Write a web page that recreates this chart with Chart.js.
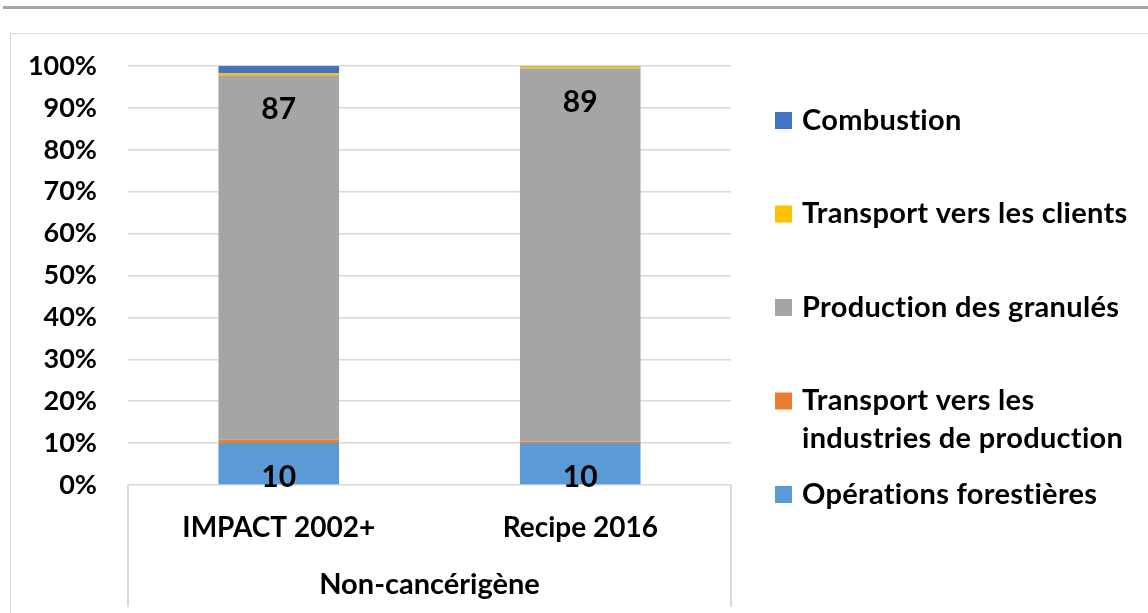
<!DOCTYPE html>
<html>
<head>
<meta charset="utf-8">
<script src="https://cdn.jsdelivr.net/npm/chart.js@4/dist/chart.umd.min.js"></script>
<style>
  html, body { margin: 0; padding: 0; background: #fff; }
  #wrap { width: 1148px; height: 613px; position: relative; }
</style>
</head>
<body>
<div id="wrap"><canvas id="c" width="1148" height="613"></canvas></div>
<script>
// Categories and stacked shares (%) per life-cycle stage
const categories = ['IMPACT 2002+', 'Recipe 2016'];
const operationsForestieres = [10, 10];
const transportIndustries = [0.8, 0.4];
const productionGranules = [87, 89];
const transportClients = [0.5, 0.5];
const combustion = [1.7, 0.1];
const yTickValues = [0, 10, 20, 30, 40, 50, 60, 70, 80, 90, 100];
const groupTitle = 'Non-cancérigène';

const FONT = 'Lato, "Liberation Sans", sans-serif';

// Page frame: grey rule at the top and the light chart border
const framePlugin = {
  id: 'frame',
  beforeDraw(chart) {
    const ctx = chart.ctx;
    ctx.save();
    ctx.fillStyle = '#ffffff';
    ctx.fillRect(0, 0, chart.width, chart.height);
    ctx.fillStyle = '#a5a5a5';
    ctx.fillRect(3, 6, chart.width - 3, 3);
    ctx.strokeStyle = '#d9d9d9';
    ctx.lineWidth = 1;
    ctx.strokeRect(10.5, 33.5, chart.width + 10, chart.height + 10);
    ctx.restore();
  }
};

// Box around the category labels below the plot
const categoryBoxPlugin = {
  id: 'categoryBox',
  afterDraw(chart) {
    const {ctx, chartArea} = chart;
    const x = chart.scales.x;
    ctx.save();
    ctx.strokeStyle = '#d9d9d9';
    ctx.lineWidth = 2;
    ctx.beginPath();
    ctx.moveTo(x.left, chartArea.bottom);
    ctx.lineTo(x.left, chart.height - 6);
    ctx.moveTo(x.right, chartArea.bottom);
    ctx.lineTo(x.right, chart.height - 6);
    ctx.stroke();
    ctx.restore();
  }
};

// Value labels on the forestry and pellet-production segments
const valueLabelPlugin = {
  id: 'valueLabels',
  afterDatasetsDraw(chart) {
    const ctx = chart.ctx;
    ctx.save();
    ctx.font = 'bold 30px ' + FONT;
    ctx.fillStyle = '#000';
    ctx.textAlign = 'center';
    ctx.textBaseline = 'middle';
    chart.data.datasets.forEach((ds, i) => {
      if (!ds.showValue) return;
      const meta = chart.getDatasetMeta(i);
      meta.data.forEach((bar, j) => {
        const v = Math.round(ds.data[j]);
        const y = ds.showValue === 'end' ? bar.y + 34 : bar.base - 7;
        ctx.fillText(String(v), bar.x, y);
      });
    });
    ctx.restore();
  }
};

// Legend on the right, listed from the top of the stack down
const sideLegendPlugin = {
  id: 'sideLegend',
  afterDraw(chart) {
    const ctx = chart.ctx;
    const markerX = 775, markerSize = 17, textX = 802;
    const firstY = 120.5, step = 93.5, lineGap = 38, maxWidth = 342;
    ctx.save();
    ctx.font = 'bold 29px ' + FONT;
    if ('letterSpacing' in ctx) ctx.letterSpacing = '0.3px';
    ctx.textBaseline = 'middle';
    ctx.textAlign = 'left';
    const items = chart.data.datasets.slice().reverse();
    items.forEach((ds, k) => {
      const cy = firstY + k * step;
      ctx.fillStyle = ds.backgroundColor;
      ctx.fillRect(markerX, cy - markerSize / 2, markerSize, markerSize);
      // wrap the label into lines that fit the legend column
      const words = ds.label.split(' ');
      const lines = [];
      let cur = '';
      words.forEach(w => {
        const test = cur ? cur + ' ' + w : w;
        if (ctx.measureText(test).width > maxWidth && cur) {
          lines.push(cur);
          cur = w;
        } else {
          cur = test;
        }
      });
      if (cur) lines.push(cur);
      ctx.fillStyle = '#000';
      lines.forEach((ln, li) => ctx.fillText(ln, textX, cy + li * lineGap));
    });
    ctx.restore();
  }
};

new Chart(document.getElementById('c'), {
  type: 'bar',
  data: {
    labels: categories,
    datasets: [
      { label: 'Opérations forestières', data: operationsForestieres, backgroundColor: '#5b9bd5', showValue: 'base' },
      { label: 'Transport vers les industries de production', data: transportIndustries, backgroundColor: '#ed7d31' },
      { label: 'Production des granulés', data: productionGranules, backgroundColor: '#a5a5a5', showValue: 'end' },
      { label: 'Transport vers les clients', data: transportClients, backgroundColor: '#ffc000' },
      { label: 'Combustion', data: combustion, backgroundColor: '#4472c4' }
    ]
  },
  options: {
    responsive: false,
    devicePixelRatio: 1,
    animation: false,
    layout: { padding: { left: 10, top: 66, right: 417, bottom: 0 } },
    datasets: { bar: { barPercentage: 0.4, categoryPercentage: 1.0, borderWidth: 0 } },
    plugins: { legend: { display: false }, tooltip: { enabled: false } },
    scales: {
      x: {
        stacked: true,
        offset: true,
        grid: { display: false },
        border: { display: false },
        ticks: { color: '#000', font: { family: FONT, weight: 'bold', size: 28 }, padding: 18 },
        title: { display: true, text: groupTitle, color: '#000', font: { family: FONT, weight: 'bold', size: 29 }, padding: { top: 0, bottom: 11 } },
        afterFit(scale) { scale.height = 128; }
      },
      y: {
        stacked: true,
        min: 0,
        max: 100,
        afterBuildTicks(scale) { scale.ticks = yTickValues.map(v => ({ value: v })); },
        ticks: { color: '#000', font: { family: FONT, weight: 'bold', size: 27 }, padding: 31, callback: v => v + '%' },
        grid: { color: '#d9d9d9', lineWidth: 1.5, drawTicks: false },
        border: { display: false },
        afterFit(scale) { scale.width = 118; }
      }
    }
  },
  plugins: [framePlugin, categoryBoxPlugin, valueLabelPlugin, sideLegendPlugin]
});
</script>
</body>
</html>
